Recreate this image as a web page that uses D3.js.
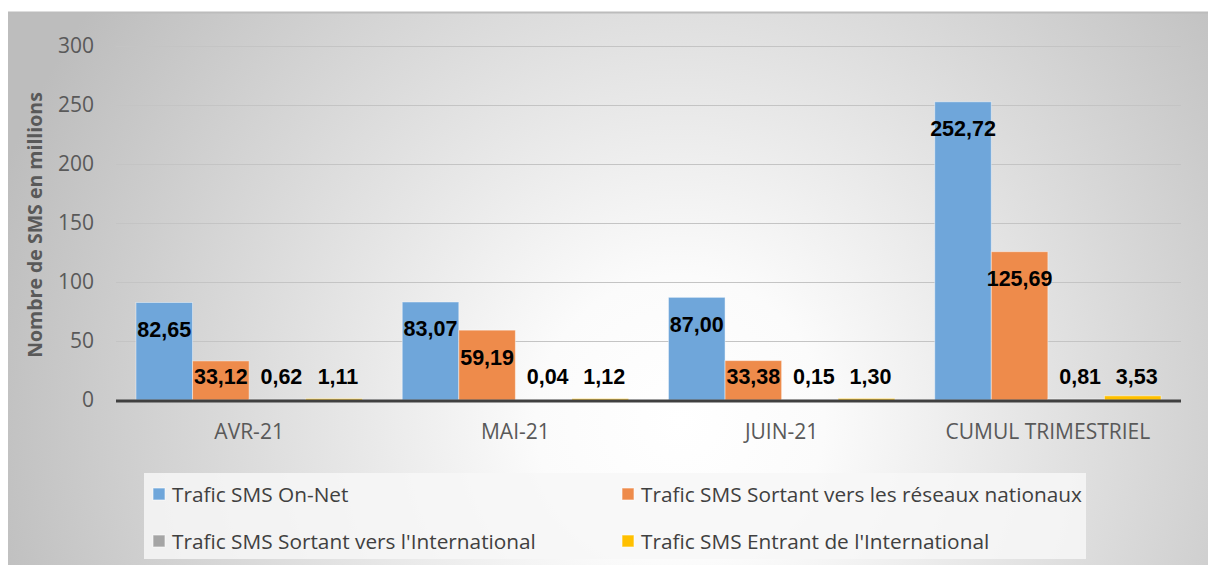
<!DOCTYPE html>
<html>
<head>
<meta charset="utf-8">
<script src="https://cdn.jsdelivr.net/npm/d3@7"></script>
<style>
  html, body { margin: 0; padding: 0; background: #fff; }
  svg { display: block; }
</style>
</head>
<body>
<div class="vis"></div>
<script>
const categories = ["AVR-21", "MAI-21", "JUIN-21", "CUMUL TRIMESTRIEL"];
const seriesNames = [
  "Trafic SMS On-Net",
  "Trafic SMS Sortant vers les réseaux nationaux",
  "Trafic SMS Sortant vers l'International",
  "Trafic SMS Entrant de l'International"
];
const onNet = [82.65, 83.07, 87.0, 252.72];
const sortantNat = [33.12, 59.19, 33.38, 125.69];
const sortantInt = [0.62, 0.04, 0.15, 0.81];
const entrantInt = [1.11, 1.12, 1.3, 3.53];
const yTicks = [0, 50, 100, 150, 200, 250, 300];
const colors = ["#6fa6da", "#ee8b4b", "#a5a5a5", "#ffc000"];

const W = 1208, H = 565;
const plot = { left: 116, right: 1181, top: 46, bottom: 400 };

const svg = d3.select(".vis").append("svg").attr("width", W).attr("height", H);

const defs = svg.append("defs");
const grad = defs.append("radialGradient")
  .attr("id", "bg")
  .attr("gradientUnits", "userSpaceOnUse")
  .attr("cx", 680).attr("cy", 420).attr("r", 720);
grad.append("stop").attr("offset", "0%").attr("stop-color", "#ffffff");
grad.append("stop").attr("offset", "20%").attr("stop-color", "#fbfbfb");
grad.append("stop").attr("offset", "100%").attr("stop-color", "#bdbdbd");

svg.append("rect").attr("x", 8).attr("y", 12).attr("width", W - 8).attr("height", H - 12)
  .attr("fill", "url(#bg)");
svg.append("line").attr("x1", 8).attr("x2", W).attr("y1", 12.5).attr("y2", 12.5)
  .attr("stroke", "#bcbcbc").attr("stroke-width", 2);

const y = d3.scaleLinear().domain([0, 300]).range([plot.bottom, plot.top]);
const x0 = d3.scaleBand().domain(categories).range([plot.left, plot.right])
  .paddingInner(0.15).paddingOuter(0.075);
const x1 = d3.scaleBand().domain(seriesNames).range([0, x0.bandwidth()]);

// gridlines
svg.append("g")
  .selectAll("line")
  .data(yTicks.filter((d) => d > 0))
  .join("line")
  .attr("x1", plot.left).attr("x2", plot.right)
  .attr("y1", (d) => Math.round(y(d)) + 0.5).attr("y2", (d) => Math.round(y(d)) + 0.5)
  .attr("stroke", "#c4c4c4").attr("stroke-width", 1);

// y axis labels
const yAxis = (g) =>
  g.attr("transform", `translate(${plot.left - 22},0)`)
    .call(d3.axisLeft(y).tickValues(yTicks).tickSize(0).tickPadding(0))
    .call((g) => g.select(".domain").remove())
    .call((g) => g.selectAll("text")
      .attr("font-family", "Open Sans, sans-serif")
      .attr("font-size", 21)
      .attr("fill", "#595959"));
svg.append("g").call(yAxis);

svg.append("text")
  .attr("transform", `translate(42,${(plot.top + plot.bottom) / 2 + 2}) rotate(-90)`)
  .attr("text-anchor", "middle")
  .attr("font-family", "Open Sans, sans-serif")
  .attr("font-weight", "bold")
  .attr("font-size", 19.5)
  .attr("fill", "#595959")
  .text("Nombre de SMS en millions");

const seriesData = [onNet, sortantNat, sortantInt, entrantInt];
const rows = categories.map((c, i) => ({
  cat: c,
  values: seriesNames.map((s, j) => ({ name: s, idx: j, value: seriesData[j][i] }))
}));

const groups = svg.append("g")
  .selectAll("g")
  .data(rows)
  .join("g")
  .attr("transform", (d) => `translate(${x0(d.cat)},0)`);

groups.selectAll("rect")
  .data((d) => d.values)
  .join("rect")
  .attr("x", (d) => x1(d.name))
  .attr("y", (d) => y(d.value))
  .attr("width", x1.bandwidth())
  .attr("height", (d) => y(0) - y(d.value))
  .attr("fill", (d) => colors[d.idx])
  .attr("stroke", "rgba(255,255,255,0.45)")
  .attr("stroke-width", 1);

groups.selectAll("text")
  .data((d) => d.values)
  .join("text")
  .attr("x", (d) => x1(d.name) + x1.bandwidth() / 2 + (d.idx >= 2 ? 4 : 0))
  .attr("y", (d) => Math.min(y(d.value) + 27, 376) + 7.5)
  .attr("text-anchor", "middle")
  .attr("font-family", "Liberation Sans, Arial, sans-serif")
  .attr("font-weight", "bold")
  .attr("font-size", 21.5)
  .attr("fill", "#000")
  .text((d) => d3.format(".2f")(d.value).replace(".", ","));

// x axis line
svg.append("line")
  .attr("x1", plot.left).attr("x2", plot.right)
  .attr("y1", y(0) + 1).attr("y2", y(0) + 1)
  .attr("stroke", "#404040").attr("stroke-width", 3);

const xAxis = (g) =>
  g.attr("transform", `translate(0,${plot.bottom + 24})`)
    .call(d3.axisBottom(x0).tickSize(0).tickPadding(0))
    .call((g) => g.select(".domain").remove())
    .call((g) => g.selectAll("text")
      .attr("font-family", "Open Sans, sans-serif")
      .attr("font-size", 21)
      .attr("fill", "#595959"));
svg.append("g").call(xAxis);

// legend
svg.append("rect")
  .attr("x", 144).attr("y", 473).attr("width", 942).attr("height", 86)
  .attr("fill", "#f7f7f7").attr("fill-opacity", 0.85);

const legendPos = [[153, 494], [622, 494], [153, 541], [622, 541]];
const legend = svg.append("g")
  .selectAll("g")
  .data(seriesNames)
  .join("g")
  .attr("transform", (d, i) => `translate(${legendPos[i][0]},${legendPos[i][1]})`);
legend.append("rect")
  .attr("x", 0).attr("y", -6).attr("width", 12).attr("height", 12)
  .attr("fill", (d, i) => colors[i])
  .attr("stroke", "rgba(255,255,255,0.6)");
legend.append("text")
  .attr("x", 19).attr("y", 7.5)
  .attr("font-family", "Open Sans, sans-serif")
  .attr("font-size", 20.8)
  .attr("fill", "#404040")
  .text((d) => d);
</script>
</body>
</html>
